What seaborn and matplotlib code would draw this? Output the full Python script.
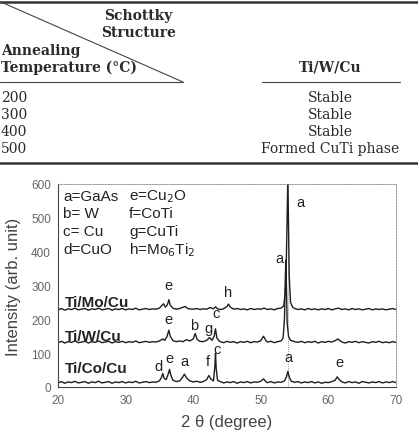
import matplotlib
matplotlib.use("Agg")
import matplotlib.pyplot as plt
import seaborn as sns
import pandas as pd
from matplotlib.lines import Line2D

# ---------------- table data ----------------
temperatures = ["200", "300", "400", "500"]
tiwcu_result = ["Stable", "Stable", "Stable", "Formed CuTi phase"]

# ---------------- XRD data (2theta, intensity) ----------------
co_pts = [(20,12),(20.5,16),(21,11),(21.5,15),(22,13),(22.5,17),(23,12),(23.5,14),(24,16),(24.5,11),
          (25,15),(25.5,13),(26,17),(26.5,12),(27,14),(27.5,16),(28,11),(28.5,15),(29,13),(29.5,16),
          (30,12),(30.5,15),(31,13),(31.5,17),(32,12),(32.5,14),(33,16),(33.5,13),(34,15),(34.5,14),
          (35,18),(35.3,28),(35.5,40),(35.7,26),(36.0,22),(36.3,38),(36.5,52),(36.7,34),(37.0,20),(37.5,16),
          (38,18),(38.4,28),(38.7,38),(39.0,27),(39.5,18),(40,15),(40.5,17),(41,14),(41.5,16),(42,22),
          (42.3,34),(42.6,24),(43.0,18),(43.2,60),(43.3,100),(43.4,55),(43.6,20),(44,16),(44.5,12),(45,15),
          (45.5,13),(46,16),(46.5,11),(47,15),(47.5,13),(48,16),(48.5,12),(49,15),(49.5,14),(50,17),
          (50.4,24),(50.8,15),(51,13),(51.5,16),(52,12),(52.5,15),(53,14),(53.5,18),(53.8,30),(54.0,46),
          (54.2,30),(54.5,17),(55,14),(55.5,16),(56,12),(56.5,15),(57,13),(57.5,16),(58,12),(58.5,15),
          (59,11),(59.5,14),(60,13),(60.5,16),(61,20),(61.3,30),(61.6,22),(62,15),(62.5,12),(63,16),
          (63.5,13),(64,15),(64.5,11),(65,16),(65.5,14),(66,12),(66.5,15),(67,13),(67.5,16),(68,12),
          (68.5,15),(69,13),(69.5,16),(70,13)]

w_pts = [(20,131),(20.5,135),(21,130),(21.5,134),(22,132),(22.5,136),(23,131),(23.5,133),(24,135),(24.5,130),
         (25,134),(25.5,132),(26,136),(26.5,131),(27,133),(27.5,135),(28,130),(28.5,134),(29,132),(29.5,135),
         (30,131),(30.5,134),(31,132),(31.5,136),(32,131),(32.5,133),(33,135),(33.5,132),(34,134),(34.5,133),
         (35,136),(35.5,142),(35.8,138),(36.1,148),(36.4,168),(36.6,150),(37,137),(37.5,134),(38,136),(38.5,134),
         (39,140),(39.5,136),(40,142),(40.3,158),(40.6,140),(41,135),(41.5,134),(42,138),(42.4,146),(42.8,138),
         (43.1,150),(43.3,172),(43.5,145),(43.8,137),(44,134),(44.5,131),(45,135),(45.5,132),(46,134),(46.5,130),
         (47,134),(47.5,132),(48,135),(48.5,131),(49,134),(49.5,133),(50,137),(50.4,150),(50.8,136),(51,133),
         (51.5,135),(52,131),(52.5,134),(53,136),(53.3,145),(53.5,200),(53.6,300),(53.7,375),(53.8,290),(53.9,190),
         (54.1,150),(54.4,138),(55,134),(55.5,132),(56,135),(56.5,131),(57,134),(57.5,132),(58,135),(58.5,130),
         (59,134),(59.5,132),(60,135),(60.5,133),(61,137),(61.4,142),(61.8,136),(62,133),(62.5,130),(63,134),
         (63.5,132),(64,135),(64.5,131),(65,134),(65.5,132),(66,130),(66.5,134),(67,132),(67.5,135),(68,131),
         (68.5,133),(69,131),(69.5,134),(70,132)]

mo_pts = [(20,228),(20.5,232),(21,227),(21.5,231),(22,229),(22.5,233),(23,228),(23.5,230),(24,232),(24.5,227),
          (25,231),(25.5,229),(26,233),(26.5,228),(27,230),(27.5,232),(28,227),(28.5,231),(29,229),(29.5,232),
          (30,228),(30.5,231),(31,229),(31.5,233),(32,228),(32.5,230),(33,232),(33.5,229),(34,231),(34.5,230),
          (35,233),(35.6,246),(35.9,236),(36.2,244),(36.4,258),(36.6,242),(37,233),(37.5,230),(38,232),(38.8,238),
          (39.3,231),(40,230),(40.5,232),(41,229),(41.5,231),(42,230),(42.5,235),(43,231),(43.3,237),(43.6,231),
          (44,229),(44.5,231),(45,238),(45.2,245),(45.5,236),(46,230),(46.5,232),(47,229),(47.5,231),(48,228),
          (48.5,232),(49,229),(49.5,231),(50,230),(50.5,233),(51,229),(51.5,231),(52,228),(52.5,232),(53,233),
          (53.4,240),(53.7,300),(53.85,450),(54.0,620),(54.1,480),(54.2,330),(54.4,250),(54.7,236),(55,232),(55.5,229),
          (56,231),(56.5,228),(57,232),(57.5,229),(58,231),(58.5,228),(59,231),(59.5,229),(60,232),(60.5,228),
          (61,231),(61.5,233),(62,229),(62.5,231),(63,228),(63.5,232),(64,229),(64.5,231),(65,228),(65.5,230),
          (66,232),(66.5,228),(67,231),(67.5,229),(68,231),(68.5,228),(69,230),(69.5,232),(70,229)]

series_names = ["Ti/Co/Cu", "Ti/W/Cu", "Ti/Mo/Cu"]
series_label_y = [55, 152, 252]

legend_col1 = ["a=GaAs", "b= W", "c= Cu", "d=CuO"]
legend_col2 = ["e=Cu$_2$O", "f=CoTi", "g=CuTi", "h=Mo$_6$Ti$_2$"]

# peak labels: (letter, 2theta, intensity)
peak_labels = [("e", 36.3, 300), ("h", 45.1, 280), ("a", 55.8, 546),
               ("e", 36.3, 202), ("b", 40.2, 184), ("g", 42.3, 174), ("c", 43.4, 218), ("a", 52.8, 380),
               ("d", 34.8, 61), ("e", 36.5, 86), ("a", 38.75, 76), ("f", 42.2, 76), ("c", 43.5, 112),
               ("a", 54.1, 88), ("e", 61.6, 74)]

x_ticks = [20, 30, 40, 50, 60, 70]
y_ticks = [0, 100, 200, 300, 400, 500, 600]

# ---------------- build figure ----------------
sns.set_theme(style="white")
plt.rcParams["font.family"] = ["Liberation Sans", "DejaVu Sans"]

W, H = 418, 435
fig = plt.figure(figsize=(W / 100, H / 100), dpi=100)

def fx(px):
    return px / W

def fy(py):
    return 1 - py / H

serif = ["DejaVu Serif"]
tc = "#2a2a2a"

# Table rules
fig.add_artist(Line2D([fx(0), fx(418)], [fy(3), fy(3)], color="#333333", lw=1.8))
fig.add_artist(Line2D([fx(0), fx(418)], [fy(164), fy(164)], color="#333333", lw=1.8))
fig.add_artist(Line2D([fx(1), fx(183)], [fy(3), fy(83)], color="#444444", lw=0.8))
fig.add_artist(Line2D([fx(0), fx(183)], [fy(83), fy(83)], color="#444444", lw=0.8))
fig.add_artist(Line2D([fx(262), fx(400)], [fy(83), fy(83)], color="#444444", lw=0.8))

hdr = dict(family=serif, fontsize=10, fontweight="bold", color=tc)
fig.text(fx(104), fy(16), "Schottky", ha="left", va="center", **hdr)
fig.text(fx(101), fy(33), "Structure", ha="left", va="center", **hdr)
fig.text(fx(1), fy(51), "Annealing", ha="left", va="center", **hdr)
fig.text(fx(1), fy(68), "Temperature (°C)", ha="left", va="center", **hdr)
fig.text(fx(330), fy(68), "Ti/W/Cu", ha="center", va="center", **hdr)

body = dict(family=serif, fontsize=10, color=tc)
for i, (t, r) in enumerate(zip(temperatures, tiwcu_result)):
    yy = 98 + i * 17
    fig.text(fx(1), fy(yy), t, ha="left", va="center", **body)
    fig.text(fx(330), fy(yy), r, ha="center", va="center", **body)

# XRD axes
ax = fig.add_axes([fx(58), 1 - 388 / H, 338 / W, 203 / H])

frames = []
for name, pts in zip(series_names, [co_pts, w_pts, mo_pts]):
    df = pd.DataFrame(pts, columns=["theta", "intensity"])
    df["sample"] = name
    frames.append(df)
data = pd.concat(frames, ignore_index=True)

sns.lineplot(data=data, x="theta", y="intensity", units="sample", estimator=None,
             color="#1e1e1e", lw=1.0, ax=ax, legend=False, sort=False)

ax.axvline(54.05, color="#777777", lw=0.6, ls=(0, (1, 1.5)), zorder=0)

ax.set_xlim(20, 70)
ax.set_ylim(0, 600)
ax.set_xticks(x_ticks)
ax.set_yticks(y_ticks)
ax.tick_params(axis="both", labelsize=8.5, labelcolor="#666666", color="#555555",
               length=3, width=0.7, direction="out", pad=2)
for side in ["top", "right"]:
    ax.spines[side].set_color("#888888")
    ax.spines[side].set_linewidth(0.6)
    ax.spines[side].set_linestyle((0, (2, 1.5)))
for side in ["left", "bottom"]:
    ax.spines[side].set_color("#444444")
    ax.spines[side].set_linewidth(0.8)

ax.set_xlabel("2 θ (degree)", fontsize=12, color="#444444", labelpad=6)
ax.set_ylabel("Intensity (arb. unit)", fontsize=12, color="#444444", labelpad=7)

lg = dict(fontsize=11, color="#222222", ha="left", va="center")
for i, (l1, l2) in enumerate(zip(legend_col1, legend_col2)):
    yv = 566 - i * 53
    ax.text(20.8, yv, l1, **lg)
    ax.text(30.5, yv, l2, **lg)

for name, yv in zip(series_names, series_label_y):
    ax.text(21.0, yv, name, fontsize=11, fontweight="bold", color="#222222",
            ha="left", va="center")

for letter, xv, yv in peak_labels:
    ax.text(xv, yv, letter, fontsize=10.5, color="#222222", ha="center", va="center")

fig.savefig("out.png", dpi=100)
